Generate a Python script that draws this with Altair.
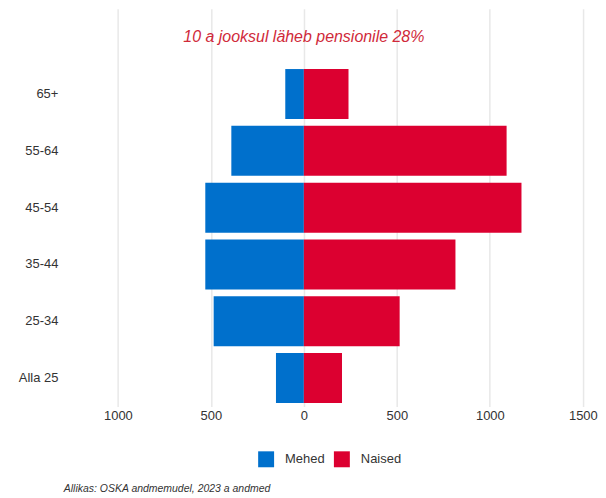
import altair as alt
import pandas as pd

groups = ["65+", "55-64", "45-54", "35-44", "25-34", "Alla 25"]
men = [100, 390, 530, 530, 485, 150]
women = [240, 1090, 1170, 815, 515, 205]
sexes = ["Mehed", "Naised"]
x_ticks = [-1000, -500, 0, 500, 1000, 1500]
annotation = "10 a jooksul läheb pensionile 28%"
source = "Allikas: OSKA andmemudel, 2023 a andmed"

BLUE = "#0070cc"
RED = "#dc0030"

rows = []
for g, m, w in zip(groups, men, women):
    rows.append({"group": g, "sex": sexes[0], "value": -m})
    rows.append({"group": g, "sex": sexes[1], "value": w})
df = pd.DataFrame(rows)

y_domain = ["_top"] + groups
y_scale = alt.Scale(domain=y_domain, paddingInner=0.12, paddingOuter=0.06)
x_scale = alt.Scale(domain=[-1280, 1560], nice=False, zero=False)

x_axis = alt.Axis(
    values=x_ticks,
    labelExpr="format(abs(datum.value), 'd')",
    title=None,
    ticks=False,
    domain=False,
    grid=True,
    gridColor="#e8e8e8",
    gridWidth=1.5,
    labelFontSize=13,
    labelColor="#333333",
    labelPadding=3,
)
y_axis = alt.Axis(
    title=None,
    ticks=False,
    domain=False,
    grid=False,
    labelExpr="datum.value == '_top' ? '' : datum.value",
    labelPadding=8,
    minExtent=58,
    labelFontSize=13,
    labelColor="#333333",
)

bars = alt.Chart(df).mark_bar().encode(
    x=alt.X("value:Q", scale=x_scale, stack=None, axis=x_axis),
    y=alt.Y("group:N", scale=y_scale, sort=None, axis=y_axis),
    color=alt.Color(
        "sex:N",
        scale=alt.Scale(domain=sexes, range=[BLUE, RED]),
        legend=alt.Legend(
            title=None,
            orient="none",
            legendX=193,
            legendY=444,
            direction="horizontal",
            symbolType="square",
            symbolSize=256,
            symbolStrokeWidth=0,
            labelFontSize=13,
            labelColor="#333333",
            labelOffset=11,
            columnPadding=9,
        ),
    ),
)

ann_df = pd.DataFrame({"group": ["_top"], "value": [0], "label": [annotation]})
ann = alt.Chart(ann_df).mark_text(
    fontStyle="italic", fontSize=16, color="#d02a3a", align="center", baseline="middle"
).encode(
    x=alt.X("value:Q", scale=x_scale, axis=x_axis),
    y=alt.Y("group:N", scale=y_scale, sort=None, axis=y_axis),
    text="label:N",
)

src_df = pd.DataFrame({"label": [source]})
src = alt.Chart(src_df).mark_text(
    fontStyle="italic", fontSize=10.5, color="#333333", align="left", baseline="middle"
).encode(
    x=alt.value(-2),
    y=alt.value(482),
    text="label:N",
)

chart = (
    alt.layer(bars, ann, src)
    .properties(width=530, height=399, padding=0)
    .configure(font="Liberation Sans")
    .configure_view(stroke=None)
)

chart.save("out.html", embed_options={"renderer": "svg", "actions": False})
